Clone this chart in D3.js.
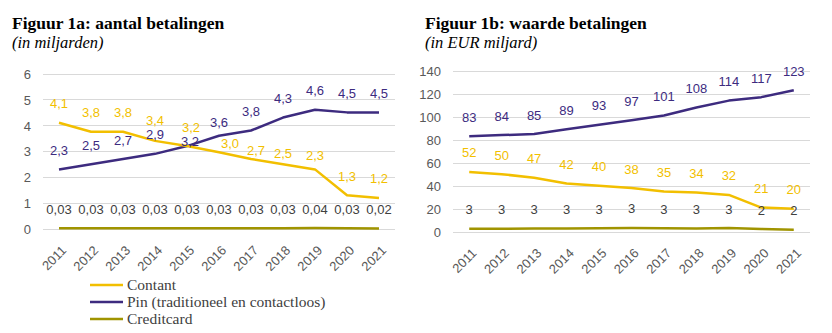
<!DOCTYPE html>
<html>
<head>
<meta charset="utf-8">
<script src="https://cdn.jsdelivr.net/npm/d3@7"></script>
<style>
  body { margin: 0; background: #fff; }
  svg { display: block; }
  .title { font-family: "Liberation Serif", serif; font-weight: bold; font-size: 17.5px; fill: #000; }
  .sub { font-family: "Liberation Serif", serif; font-style: italic; font-size: 16.5px; fill: #000; }
  .tick text { font-family: "Liberation Sans", sans-serif; font-size: 13px; fill: #595959; }
  .lbl { font-family: "Liberation Sans", sans-serif; font-size: 13px; }
  .legend text { font-family: "Liberation Serif", serif; font-size: 15.5px; fill: #404040; }
</style>
</head>
<body>
<script>
// data
var years = ["2011","2012","2013","2014","2015","2016","2017","2018","2019","2020","2021"];

var aantalContant = [4.1, 3.75, 3.75, 3.4, 3.2, 2.96, 2.7, 2.5, 2.3, 1.3, 1.2];
var aantalPin = [2.3, 2.5, 2.7, 2.9, 3.2, 3.6, 3.8, 4.3, 4.6, 4.5, 4.5];
var aantalCredit = [0.03, 0.03, 0.03, 0.03, 0.03, 0.03, 0.03, 0.03, 0.04, 0.03, 0.02];
var aantalTicks = [0, 1, 2, 3, 4, 5, 6];

var waardeContant = [52, 50, 47, 42, 40, 38, 35, 34, 32, 21, 20];
var waardePin = [83, 84, 85, 89, 93, 97, 101, 108, 114, 117, 123];
var waardeCredit = [2.6, 2.6, 2.7, 2.7, 3.1, 3.3, 3.1, 2.8, 3.2, 2.3, 1.8];
var waardeTicks = [0, 20, 40, 60, 80, 100, 120, 140];

var seriesNames = ["Contant", "Pin (traditioneel en contactloos)", "Creditcard"];

var colors = {contant: "#F2BF00", pin: "#3D2B7F", credit: "#A09400"};
var labelColors = {contant: "#F2BF00", pin: "#3D2B7F", credit: "#404040"};

var svg = d3.select("body").append("svg")
    .attr("width", 832)
    .attr("height", 333);

var comma = function(fmt) {
  var f = d3.format(fmt);
  return function(v) { return f(v).replace(".", ","); };
};

function drawChart(opt) {
  var g = svg.append("g");

  g.append("text").attr("class", "title")
    .attr("x", opt.titleX).attr("y", 29).text(opt.title);
  g.append("text").attr("class", "sub")
    .attr("x", opt.titleX).attr("y", 48).text(opt.sub);

  var x = d3.scaleBand().domain(years).range([opt.left, opt.right]);
  var y = d3.scaleLinear().domain([0, opt.max]).range([opt.bottom, opt.top]);

  // grid
  g.append("g")
    .selectAll("line")
    .data(opt.ticks)
    .enter().append("line")
      .attr("x1", opt.left).attr("x2", opt.right)
      .attr("y1", function(d) { return Math.round(y(d)) + 0.5; })
      .attr("y2", function(d) { return Math.round(y(d)) + 0.5; })
      .style("stroke", "#D9D9D9")
      .style("stroke-width", 1);

  var yAxis = g.append("g")
    .attr("transform", "translate(" + (opt.left - 12) + ",0)")
    .call(d3.axisLeft(y).tickValues(opt.ticks).tickFormat(d3.format("d")).tickSize(0).tickPadding(0));
  yAxis.select(".domain").remove();
  yAxis.selectAll("text").attr("dy", "0.36em");

  var xAxis = g.append("g")
    .attr("transform", "translate(0," + opt.bottom + ")")
    .call(d3.axisBottom(x).tickSize(0));
  xAxis.select(".domain").remove();
  xAxis.selectAll("text")
    .style("text-anchor", "end")
    .attr("dy", "0.35em")
    .attr("transform", "translate(5,19) rotate(-45)")
    .attr("y", 0).attr("x", 0);

  var line = d3.line()
    .x(function(d, i) { return x(years[i]) + x.bandwidth() / 2; })
    .y(function(d) { return y(d); });

  opt.series.forEach(function(s) {
    g.append("path")
      .datum(s.values)
      .attr("d", line)
      .style("fill", "none")
      .style("stroke", colors[s.key])
      .style("stroke-width", 2.5)
      .style("stroke-linejoin", "round");
  });

  opt.series.forEach(function(s) {
    var nudge = (opt.nudge && opt.nudge[s.key]) || {};
    g.append("g")
      .selectAll("text")
      .data(s.values)
      .enter().append("text")
        .attr("class", "lbl")
        .attr("text-anchor", "middle")
        .attr("dy", "0.35em")
        .attr("x", function(d, i) {
          var n = nudge[years[i]] || [0, 0];
          return x(years[i]) + x.bandwidth() / 2 + n[0];
        })
        .attr("y", function(d, i) {
          var n = nudge[years[i]] || [0, 0];
          return y(d) - 19 + n[1];
        })
        .style("fill", labelColors[s.key])
        .text(function(d) { return s.fmt(d); });
  });
}

drawChart({
  title: "Figuur 1a: aantal betalingen",
  sub: "(in miljarden)",
  titleX: 12,
  left: 43, right: 395, top: 73.5, bottom: 229,
  max: 6, ticks: aantalTicks,
  series: [
    {key: "credit", values: aantalCredit, fmt: comma(".2f")},
    {key: "pin", values: aantalPin, fmt: comma(".1f")},
    {key: "contant", values: aantalContant, fmt: comma(".1f")}
  ],
  nudge: {
    contant: {"2014": [0, -1], "2015": [4, 0], "2016": [11, 10], "2017": [5, 10], "2018": [0, 8], "2019": [0, 5]},
    pin: {"2015": [3, 14], "2016": [0, 6]}
  }
});

drawChart({
  title: "Figuur 1b: waarde betalingen",
  sub: "(in EUR miljard)",
  titleX: 425,
  left: 453, right: 810, top: 70.7, bottom: 231.7,
  max: 140, ticks: waardeTicks,
  series: [
    {key: "credit", values: waardeCredit, fmt: d3.format(".0f")},
    {key: "pin", values: waardePin, fmt: d3.format(".0f")},
    {key: "contant", values: waardeContant, fmt: d3.format(".0f")}
  ]
});

// legend (left chart only)
var legend = svg.append("g").attr("class", "legend")
  .attr("transform", "translate(90,285)");
var legendKeys = ["contant", "pin", "credit"];
legend.selectAll("g")
  .data(seriesNames)
  .enter().append("g")
    .attr("transform", function(d, i) { return "translate(0," + (i * 17) + ")"; })
    .each(function(d, i) {
      var row = d3.select(this);
      row.append("line")
        .attr("x1", 0).attr("x2", 33)
        .attr("y1", 0).attr("y2", 0)
        .style("stroke", colors[legendKeys[i]])
        .style("stroke-width", 2.5);
      row.append("text")
        .attr("x", 37).attr("dy", "0.32em")
        .text(d);
    });
</script>
</body>
</html>
